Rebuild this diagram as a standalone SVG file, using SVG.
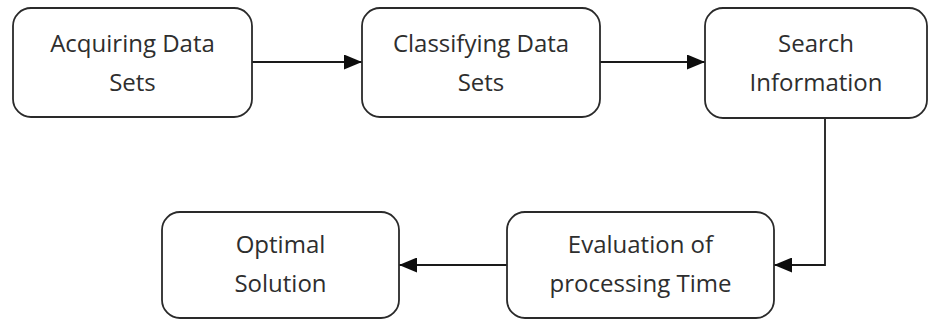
<svg xmlns="http://www.w3.org/2000/svg" width="933" height="322" viewBox="0 0 933 322">
  <style>
    .box { fill: #ffffff; stroke: #2a2a2a; stroke-width: 1.8; }
    .label { font-family: "Open Sans", "Liberation Sans", sans-serif; font-size: 24px; fill: #2e2e2e; text-anchor: middle; }
    .edge { fill: none; stroke: #1a1a1a; stroke-width: 1.8; marker-end: url(#head); }
  </style>
  <defs>
    <marker id="head" viewBox="0 0 18 15" refX="18" refY="7.5" markerWidth="18" markerHeight="15" markerUnits="userSpaceOnUse" orient="auto">
      <path d="M0,0 L18,7.5 L0,15 Z" fill="#0d0d0d"/>
    </marker>
  </defs>
  <rect width="933" height="322" fill="#ffffff"/>

  <g id="connectors">
    <path class="edge" d="M252,62 H362"/>
    <path class="edge" d="M600,62 H705"/>
    <path class="edge" d="M825,118 V265 H774"/>
    <path class="edge" d="M507,265 H399"/>
  </g>

  <g id="acquiring">
    <rect class="box" x="13" y="8" width="239" height="109" rx="18"/>
    <text class="label" x="132.5" y="52">Acquiring Data</text>
    <text class="label" x="132.5" y="91">Sets</text>
  </g>
  <g id="classifying">
    <rect class="box" x="362" y="8" width="238" height="109" rx="18"/>
    <text class="label" x="481" y="52">Classifying Data</text>
    <text class="label" x="481" y="91">Sets</text>
  </g>
  <g id="search">
    <rect class="box" x="705" y="8" width="222" height="110" rx="18"/>
    <text class="label" x="816" y="52">Search</text>
    <text class="label" x="816" y="91">Information</text>
  </g>
  <g id="evaluation">
    <rect class="box" x="507" y="212" width="267" height="106" rx="18"/>
    <text class="label" x="640.5" y="253">Evaluation of</text>
    <text class="label" x="640.5" y="292">processing Time</text>
  </g>
  <g id="optimal">
    <rect class="box" x="162" y="212" width="237" height="106" rx="18"/>
    <text class="label" x="280.5" y="253">Optimal</text>
    <text class="label" x="280.5" y="292">Solution</text>
  </g>
</svg>
